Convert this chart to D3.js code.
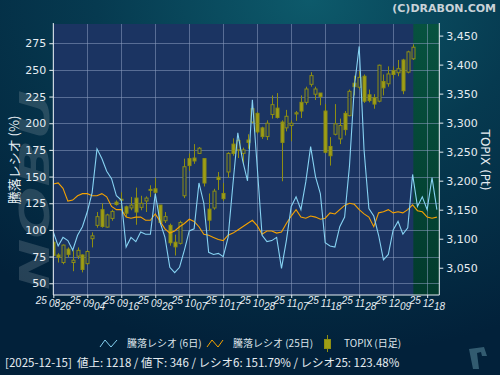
<!DOCTYPE html>
<html><head><meta charset="utf-8">
<script src="https://cdn.jsdelivr.net/npm/d3@7"></script>
<style>html,body{margin:0;padding:0;background:#03233a;}svg{display:block;}</style>
</head><body>
<svg id="chart" width="500" height="375"></svg>
<script>
// ---------- DATA ----------
const tickIndex = [0,7,14,21,28,35,42,49,56,63,70,77];
const tickLabels = ["250826","250904","250916","250926","251007","251017","251028","251107","251118","251128","251209","251218"];
const leftTicks = [50,75,100,125,150,175,200,225,250,275];
const rightTicks = [3050,3100,3150,3200,3250,3300,3350,3400,3450];

const candleOpen  = [3094,3072,3059,3082,3059,3070,3072,3057,3100,3123,3150,3120,3135,3163,3167,3155,3153,3170,3154,3165,
  3184,3186,3158,3131,3123,3094,3092,3174,3238,3239,3247,3238,3151,3153,3206,3178,3215,3263,3253,3247,
  3270,3301,3316,3291,3276,3314,3325,3301,3291,3295,3315,3335,3335,3366,3349,3351,3320,3259,3280,3272,
  3316,3312,3368,3361,3380,3348,3343,3337,3371,3367,3390,3386,3408,3387,3410];
const candleHigh  = [3101,3075,3090,3085,3080,3085,3073,3080,3111,3146,3161,3143,3150,3166,3180,3157,3172,3188,3174,3173,
  3192,3205,3158,3146,3126,3107,3131,3238,3247,3263,3258,3238,3178,3186,3215,3196,3249,3273,3272,3257,
  3280,3332,3318,3293,3304,3347,3351,3304,3322,3304,3320,3347,3362,3387,3362,3351,3332,3275,3332,3307,
  3320,3357,3381,3389,3383,3357,3349,3400,3383,3397,3397,3408,3410,3424,3435];
const candleLow   = [3062,3059,3056,3068,3044,3065,3042,3055,3085,3119,3119,3119,3131,3157,3149,3137,3149,3124,3149,3146,
  3172,3170,3126,3127,3088,3071,3090,3170,3217,3229,3246,3190,3114,3150,3184,3165,3205,3243,3239,3229,
  3255,3299,3281,3272,3270,3307,3307,3199,3285,3268,3303,3308,3331,3362,3339,3330,3247,3226,3278,3263,
  3278,3311,3347,3357,3334,3335,3324,3335,3347,3362,3376,3380,3349,3385,3408];
const candleClose = [3071,3068,3089,3073,3063,3080,3047,3078,3105,3138,3121,3141,3147,3159,3168,3144,3158,3146,3161,3170,
  3185,3180,3128,3138,3093,3086,3128,3224,3226,3234,3256,3196,3132,3182,3202,3169,3247,3247,3269,3253,
  3266,3324,3284,3276,3299,3331,3309,3266,3311,3299,3317,3320,3358,3381,3358,3345,3249,3243,3298,3295,
  3288,3354,3362,3378,3337,3338,3332,3399,3360,3384,3383,3393,3355,3422,3430];

const ratio6  = [98,85,93,90,81,95,103,117,135,176,167,155,148,132,128,84,93,89,98,96,
  96,134,107,93,65,60,65,81,99,101,144,125,79,77,78,75,93,143,191,165,
  146,222,159,95,89,90,93,64,90,122,131,119,145,178,150,134,88,85,84,103,
  112,160,234,272,175,120,113,95,72,77,100,108,96,102,152,122,131,119,149,119];
const ratio25 = [143,144,139,127,128,132,134,134,132,132,134,131,122,119,119,112,111,112,112,109,
  109,115,108,101,97,99,103,106,110,108,103,96,95,93,91,90,95,97,100,103,
  106,109,104,96,99,99,97,98,106,113,119,112,111,113,112,110,111,116,115,119,
  123,125,124,119,115,112,103,116,117,119,116,117,116,119,123.5,118,117,112,111,112];

const legendLabels = ["騰落レシオ (6日)","騰落レシオ (25日)","TOPIX (日足)"];
const footerText = "[2025-12-15]  値上: 1218 / 値下: 346 / レシオ6: 151.79% / レシオ25: 123.48%";

// ---------- LAYOUT ----------
const svg = d3.select("#chart");
const L = 53.3, R = 439.3, T = 24, B = 295;
const x = d3.scaleLinear().domain([0, 79.5]).range([L, R]);
const yL = d3.scaleLinear().domain([39, 293]).range([B, T]);
const yR = d3.scaleLinear().domain([3003, 3470]).range([B, T]);

const defs = svg.append("defs");
const bg = defs.append("radialGradient").attr("id","bg").attr("cx","62%").attr("cy","0%").attr("r","95%");
bg.append("stop").attr("offset","0%").attr("stop-color","#0d5a6b");
bg.append("stop").attr("offset","45%").attr("stop-color","#063a50");
bg.append("stop").attr("offset","100%").attr("stop-color","#02213a");
const gg = defs.append("linearGradient").attr("id","green").attr("x1",0).attr("y1",0).attr("x2",0).attr("y2",1);
gg.append("stop").attr("offset","0%").attr("stop-color","#07523f");
gg.append("stop").attr("offset","100%").attr("stop-color","#023b2d");
defs.append("clipPath").attr("id","clip").append("rect").attr("x",L).attr("y",T).attr("width",R-L).attr("height",B-T);

svg.append("rect").attr("width",500).attr("height",375).attr("fill","url(#bg)");

// watermark
svg.append("text").attr("transform","translate(49,290) rotate(-90)")
  .attr("font-family","DejaVu Sans").attr("font-weight","bold").attr("font-style","italic")
  .attr("font-size",40).attr("fill","#7a8d99").attr("opacity",0.3).attr("textLength",200)
  .attr("lengthAdjust","spacingAndGlyphs").text("NOBU");

// plot background
svg.append("rect").attr("x",L).attr("y",T).attr("width",R-L).attr("height",B-T).attr("fill","#1b3462");
const gStart = x(74.15);
svg.append("rect").attr("x",gStart).attr("y",T).attr("width",R-gStart).attr("height",B-T).attr("fill","url(#green)");

// grid
const grid = svg.append("g").attr("stroke","#8a9cc0").attr("stroke-opacity",0.55).attr("stroke-width",1);
leftTicks.forEach(v=>grid.append("line").attr("x1",L).attr("x2",R).attr("y1",Math.round(yL(v))+0.5).attr("y2",Math.round(yL(v))+0.5));
tickIndex.forEach(i=>grid.append("line").attr("y1",T).attr("y2",B).attr("x1",Math.round(x(i))+0.5).attr("x2",Math.round(x(i))+0.5));

// candles
const plot = svg.append("g").attr("clip-path","url(#clip)");
const cg = plot.append("g");
candleOpen.forEach((o,i)=>{
  const c = candleClose[i], h = candleHigh[i], l = candleLow[i];
  const cx = Math.round(x(i))+0.5;
  cg.append("line").attr("x1",cx).attr("x2",cx).attr("y1",yR(h)).attr("y2",yR(l)).attr("stroke","#8e8e12").attr("stroke-width",1);
  const top = yR(Math.max(o,c)), bot = yR(Math.min(o,c));
  cg.append("rect").attr("x",cx-1.5).attr("y",top).attr("width",3).attr("height",Math.max(1,bot-top))
    .attr("fill", c < o ? "#9e9e16" : "#1b3462").attr("stroke","#8e8e12").attr("stroke-width",1);
});

// lines
const line = d3.line().x((d,i)=>x(i)).y(d=>yL(d));
plot.append("path").datum(ratio25).attr("d",line).attr("fill","none").attr("stroke","#f5a200").attr("stroke-width",1.1);
plot.append("path").datum(ratio6).attr("d",line).attr("fill","none").attr("stroke","#86d2f2").attr("stroke-width",1.1);

// axes
const axCol = "#e6edf2";
const la = svg.append("g").attr("transform",`translate(${L},0)`).call(d3.axisLeft(yL).tickValues(leftTicks).tickSize(4).tickPadding(3));
const ra = svg.append("g").attr("transform",`translate(${R},0)`).call(d3.axisRight(yR).tickValues(rightTicks).tickSize(4).tickPadding(3).tickFormat(d3.format(",")));
const ba = svg.append("g").attr("transform",`translate(0,${B})`).call(d3.axisBottom(x).tickValues(tickIndex).tickSize(3).tickFormat(""));
[la,ra,ba].forEach(a=>{
  a.select(".domain").attr("stroke",axCol);
  a.selectAll(".tick line").attr("stroke",axCol);
  a.selectAll(".tick text").attr("fill",axCol).attr("font-family","DejaVu Sans").attr("font-size",11);
});
la.select(".domain").attr("d",`M0,${B}V${T-1}`);
ra.select(".domain").attr("d",`M0,${B}V${T-1}`);
ba.select(".domain").attr("d",`M${L},0H${R}`);

// x labels (stepped)
const xl = svg.append("g").attr("font-family","Liberation Sans").attr("font-size",10).attr("font-style","italic").attr("fill",axCol);
tickIndex.forEach((idx,k)=>{
  const lab = tickLabels[k];
  const t = xl.append("text").attr("x",x(idx)-17.5).attr("y",303.5);
  t.append("tspan").text(lab.slice(0,2));
  t.append("tspan").attr("dx",2).attr("dy",3.3).text(lab.slice(2,4));
  t.append("tspan").attr("dy",3.3).text(lab.slice(4,6));
});

// axis titles
svg.append("text").attr("transform","translate(19,160) rotate(-90)").attr("text-anchor","middle")
  .attr("font-family","Noto Sans CJK JP").attr("font-size",13).attr("fill",axCol).text("騰落レシオ (%)");
svg.append("text").attr("transform","translate(481,160) rotate(90)").attr("text-anchor","middle")
  .attr("font-family","DejaVu Sans").attr("font-size",12).attr("fill",axCol).text("TOPIX (Pt)");

// copyright
svg.append("text").attr("x",496).attr("y",12).attr("text-anchor","end").attr("font-family","DejaVu Sans")
  .attr("font-weight","bold").attr("font-size",11).attr("fill","#c9d2d8").text("(C)DRABON.COM");

// legend
const lg = svg.append("g").attr("font-family","Noto Sans CJK JP").attr("font-size",10).attr("fill","#dde4ea");
lg.append("polyline").attr("points","100,347 105,340 111,347 117,340").attr("fill","none").attr("stroke","#86d2f2");
lg.append("text").attr("x",127).attr("y",347).text(legendLabels[0]);
lg.append("polyline").attr("points","207,347 212,340 218,347 223,340").attr("fill","none").attr("stroke","#f5a200");
lg.append("text").attr("x",233).attr("y",347).text(legendLabels[1]);
lg.append("line").attr("x1",327.5).attr("x2",327.5).attr("y1",335).attr("y2",352).attr("stroke","#8e8e12");
lg.append("rect").attr("x",324.5).attr("y",339.5).attr("width",6).attr("height",9).attr("fill","#9e9e16").attr("stroke","#8e8e12");
lg.append("text").attr("x",344).attr("y",347).text(legendLabels[2]);

// footer
svg.append("text").attr("x",5).attr("y",367).attr("font-family","Noto Sans CJK JP").attr("font-size",11.5)
  .attr("fill","#e6edf2").attr("xml:space","preserve").style("white-space","pre").text(footerText);

// small logo mark bottom right
svg.append("path").attr("d","M469,349 L484,347 L487,356 L482,356 L481,352 L477,353 L479,369 L473,369 Z")
  .attr("fill","#3f6a7e").attr("opacity",0.8);
</script>
</body></html>
